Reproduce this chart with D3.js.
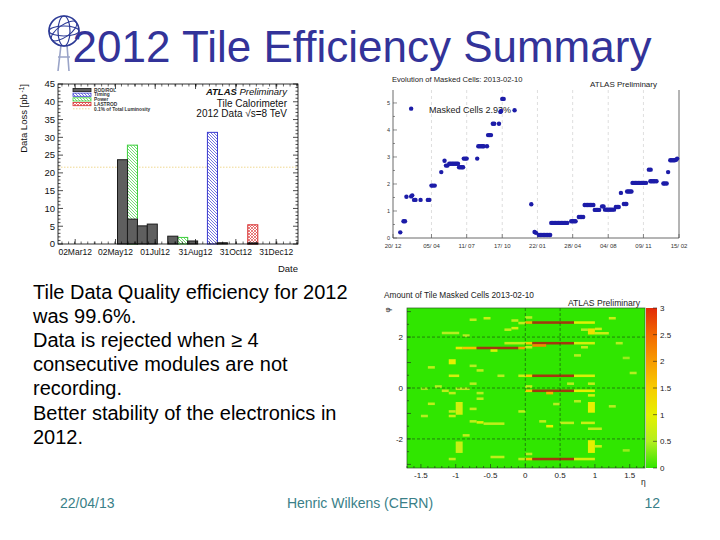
<!DOCTYPE html>
<html><head><meta charset="utf-8">
<script src="https://cdn.jsdelivr.net/npm/d3@7/dist/d3.min.js"></script>
<style>
body{margin:0;background:#fff}
svg{display:block}
text{font-family:"Liberation Sans",Arial,Helvetica,sans-serif}
</style>
</head><body>
<svg id="s" width="720" height="540"></svg>
<script>
// ---------------- DATA ----------------
// Slide text
const slideTitle = "2012 Tile Efficiency Summary";
const bodyLines = ["Tile Data Quality efficiency for 2012","was 99.6%.","Data is rejected when \u2265 4","consecutive modules are not","recording.","Better stability of the electronics in","2012."];
const footerLeft = "22/04/13", footerMid = "Henric Wilkens (CERN)", footerRight = "12";

// Chart 1: data loss per period (pb^-1)
const lossTickDates = ["2012-03-02","2012-05-02","2012-07-01","2012-08-31","2012-10-31","2012-12-31"];
const lossTickLabels = ["02Mar12","02May12","01Jul12","31Aug12","31Oct12","31Dec12"];
const lossYTicks = [0,5,10,15,20,25,30,35,40,45];
const rodBins = ["2012-05-05","2012-05-20","2012-06-04","2012-06-19","2012-07-20","2012-08-19","2012-10-03","2012-11-18"];
const rodValues = [23.7,7.0,5.1,5.6,2.2,0.85,0.35,0.3];
const timingBins = ["2012-09-18"];
const timingValues = [31.4];
const powerBins = ["2012-05-20","2012-08-04"];
const powerValues = [27.8,1.85];
const lastrodBins = ["2012-11-18"];
const lastrodValues = [5.4];
const lumiLimit = 21.6;
const lossLegend = ["ROD/ROL","Timing","Power","LASTROD","0.1% of Total Luminosity"];

// Chart 2: evolution of masked cells (%)
const maskTickDates = ["2010-12-20","2011-04-05","2011-07-11","2011-10-17","2012-01-22","2012-04-28","2012-08-04","2012-11-09","2013-02-15"];
const maskTickLabels = ["20/ 12","05/ 04","11/ 07","17/ 10","22/ 01","28/ 04","04/ 08","09/ 11","15/ 02"];
const maskYTicks = [0,1,2,3,4,5];
const maskDates = [
"2011-01-09","2011-01-18","2011-01-22","2011-01-26","2011-02-08","2011-02-08","2011-02-11","2011-02-16","2011-02-20","2011-03-06",
"2011-03-26","2011-03-30","2011-04-05","2011-04-09","2011-04-14","2011-05-02","2011-05-11","2011-05-15","2011-05-19","2011-05-24",
"2011-05-28","2011-06-01","2011-06-05","2011-06-09","2011-06-13","2011-06-17","2011-06-20","2011-06-24","2011-06-28","2011-07-01",
"2011-07-03","2011-07-07","2011-07-11","2011-08-09","2011-08-12","2011-08-16","2011-08-20","2011-08-24","2011-08-27","2011-09-05",
"2011-09-08","2011-09-12","2011-09-16","2011-09-21","2011-09-25","2011-10-08","2011-10-12","2011-10-14","2011-10-17","2011-10-21",
"2011-11-20","2012-01-05","2012-01-14","2012-01-18","2012-01-26","2012-01-30","2012-02-03","2012-02-07","2012-02-11","2012-02-15",
"2012-02-19","2012-02-23","2012-02-26","2012-02-29","2012-03-04","2012-03-08","2012-03-12","2012-03-16","2012-03-20","2012-03-24",
"2012-03-28","2012-04-01","2012-04-05","2012-04-09","2012-04-13","2012-04-24","2012-04-28","2012-05-02","2012-05-06","2012-05-15",
"2012-05-19","2012-05-23","2012-05-27","2012-05-31","2012-06-04","2012-06-08","2012-06-12","2012-06-16","2012-06-20","2012-06-24",
"2012-06-28","2012-07-02","2012-07-06","2012-07-10","2012-07-18","2012-07-22","2012-07-26","2012-07-30","2012-08-03","2012-08-07",
"2012-08-11","2012-08-15","2012-08-20","2012-08-25","2012-08-29","2012-09-02","2012-09-08","2012-09-16","2012-09-20","2012-09-23",
"2012-09-25","2012-09-29","2012-10-03","2012-10-07","2012-10-10","2012-10-14","2012-10-18","2012-10-22","2012-10-26","2012-10-30",
"2012-11-03","2012-11-07","2012-11-11","2012-11-16","2012-11-24","2012-11-29","2012-11-28","2012-12-02","2012-12-06","2012-12-10",
"2012-12-15","2013-01-03","2013-01-07","2013-01-12","2013-01-16","2013-01-22","2013-01-26","2013-01-30","2013-02-03","2013-02-07",
"2013-02-10"];
const maskValues = [
0.21,0.62,0.62,1.53,4.79,1.54,1.58,1.41,1.41,1.41,
1.41,1.41,1.94,1.94,1.94,2.44,2.86,2.68,2.68,2.75,
2.75,2.75,2.75,2.75,2.75,2.75,2.62,2.62,2.62,2.62,
2.94,2.94,2.94,2.94,3.40,3.40,3.40,3.40,3.40,3.40,
3.81,3.81,3.81,4.23,4.23,4.23,4.67,4.70,5.15,5.15,
4.73,1.25,0.22,0.19,0.11,0.11,0.11,0.11,0.11,0.11,
0.11,0.11,0.11,0.56,0.56,0.56,0.56,0.56,0.56,0.56,
0.56,0.56,0.56,0.56,0.56,0.62,0.62,0.62,0.62,0.78,
0.78,0.78,0.78,1.22,1.22,1.22,1.22,1.22,1.22,1.22,
1.04,1.04,1.04,1.04,1.17,1.17,1.05,1.05,1.05,1.05,
1.05,1.05,1.05,1.15,1.15,1.15,1.67,1.26,1.26,1.26,
1.72,1.72,1.72,1.72,2.04,2.04,2.04,2.04,2.04,2.04,
2.04,2.04,2.04,2.04,2.53,2.53,2.10,2.10,2.10,2.10,
2.10,2.02,2.02,2.02,2.44,2.88,2.88,2.88,2.88,2.90,
2.94];

// Chart 3: masked cells map [eta0, eta1, phiLow, phiHigh, value]
const etaTicks = [-1.5,-1,-0.5,0,0.5,1,1.5];
const phiTicks = [-2,0,2];
const zTicks = [0,0.5,1,1.5,2,2.5,3];
const cells = [
[-0.8,-0.7,2.63,2.73,0.6],[-0.6,-0.5,2.69,2.79,0.7],[-0.2,-0.1,2.6,2.7,0.6],[-0.1,0,2.5,2.6,0.6],
[-0.3,-0.2,2.24,2.34,0.6],[-0.2,-0.1,2.3,2.4,0.8],[-1.2,-0.95,2.11,2.21,0.5],[-0.9,-0.8,2.01,2.11,0.5],
[-0.3,0,1.71,1.81,0.6],[-1.0,-0.9,1.52,1.62,1.1],[-0.9,-0.7,1.52,1.62,1.6],[-0.7,-0.1,1.52,1.62,3.5],
[-0.1,0,1.52,1.62,2.0],[-0.5,-0.4,1.42,1.52,0.9],[-1.1,-1.0,0.93,1.13,1.0],[-0.8,-0.7,0.82,0.92,0.5],
[-1.4,-1.3,0.76,0.86,0.6],[-0.7,-0.6,0.64,0.74,0.6],[-1.1,-0.95,0.43,0.53,0.8],[-0.4,-0.3,0.43,0.53,0.5],
[-0.1,0,0.43,0.53,0.7],[-0.8,-0.7,0.12,0.22,0.5],[-1.3,-1.2,0.01,0.11,0.5],[-1.5,-1.4,-0.08,0.02,0.4],
[-1.0,-0.8,-0.08,0.02,0.5],[-1.2,-1.1,-0.16,-0.06,0.6],[-1.1,-1.0,-0.25,-0.15,0.6],[-0.7,-0.6,-0.25,-0.15,0.5],
[-0.7,-0.6,-0.47,-0.37,0.6],[-1.4,-1.3,-0.67,-0.57,0.6],[-1.0,-0.9,-1.05,-0.55,0.8],[-0.8,-0.7,-0.87,-0.77,0.6],
[-1.1,-1.0,-0.97,-0.87,0.6],[-1.1,-1.0,-1.15,-1.05,0.7],[-1.5,-1.4,-1.15,-1.05,0.5],[-0.1,0,-0.97,-0.87,0.6],
[-0.8,-0.7,-1.36,-1.26,0.6],[-0.7,-0.6,-1.4,-1.3,0.9],[-0.6,-0.3,-1.45,-1.35,0.6],[-0.9,-0.8,-1.91,-1.81,0.6],
[-1.0,-0.9,-2.55,-2.1,0.7],[-0.5,-0.3,-2.76,-2.66,0.6],[-1.1,-1.0,-2.84,-2.74,0.6],[-0.1,0,-2.84,-2.74,0.6],
[0,0.1,2.52,2.62,1.8],[0.1,0.7,2.52,2.62,3.5],[0.7,1.0,2.52,2.62,0.9],[0,0.1,2.72,2.82,0.5],
[1.2,1.3,2.69,2.79,0.7],[0.9,1.0,2.1,2.34,1.2],[1.0,1.1,2.27,2.37,0.7],[1.0,1.2,2.1,2.2,0.7],
[0.8,0.9,2.24,2.34,0.5],[0,0.1,1.71,1.81,1.5],[0.1,0.7,1.71,1.81,3.5],[0.7,1.0,1.71,1.81,0.8],
[0.1,0.3,1.62,1.72,2.2],[0,0.1,1.55,1.65,0.6],[1.3,1.4,1.71,1.81,0.5],[0.8,0.9,1.55,1.65,0.6],
[0.7,0.8,1.23,1.33,0.5],[1.4,1.5,1.13,1.23,0.4],[1.5,1.6,0.54,0.64,0.5],[0,0.1,0.43,0.53,1.5],
[0.1,0.7,0.43,0.53,3.5],[0.7,1.0,0.43,0.53,0.85],[0.6,0.7,0.12,0.22,0.5],[0.9,1.0,0.12,0.22,0.6],
[0,0.1,0.01,0.11,0.6],[0,0.1,-0.16,-0.06,1.5],[0.1,0.7,-0.16,-0.06,3.5],[0.7,1.0,-0.16,-0.06,1.0],
[0.3,0.4,-0.25,-0.15,1.8],[0.9,1.0,-0.34,-0.24,0.8],[0.7,0.8,-0.57,-0.47,0.5],[0.4,0.5,-0.68,-0.58,0.5],
[0.9,1.0,-0.97,-0.55,1.0],[1.2,1.3,-0.77,-0.67,0.5],[0.2,0.3,-1.36,-1.26,0.6],[0.5,0.7,-1.42,-1.32,0.6],
[0.8,1.0,-1.42,-1.32,0.7],[0.3,0.4,-1.55,-1.45,1.0],[0.9,1.1,-1.65,-1.55,0.6],[0.9,1.0,-2.55,-2.05,1.0],
[1.0,1.1,-2.34,-2.24,0.7],[1.4,1.5,-2.5,-2.4,0.4],[0,0.1,-2.64,-2.54,0.5],[0,0.1,-2.84,-2.74,1.5],
[0.1,0.7,-2.84,-2.74,3.5],[0.7,1.0,-2.84,-2.74,0.8]
];

// ---------------- DRAWING ----------------
const parse = d3.timeParse("%Y-%m-%d");
const svg = d3.select("#s");
const FONT = '"Liberation Sans",Arial,sans-serif';
const defs = svg.append("defs");

function hatch(id, color, cross){
  const p = defs.append("pattern").attr("id",id).attr("patternUnits","userSpaceOnUse")
    .attr("width",3).attr("height",3);
  p.append("rect").attr("width",3).attr("height",3).attr("fill","#fff");
  p.append("path").attr("d","M-1,-1L4,4M-1,2L1,4M2,-1L4,1").attr("stroke",color).attr("stroke-width",0.7);
  if(cross) p.append("path").attr("d","M-1,4L4,-1M-1,1L1,-1M2,4L4,2").attr("stroke",color).attr("stroke-width",0.7);
}
hatch("hBlue","#3a3ad0",false);
hatch("hGreen","#3ccf3c",false);
hatch("hRed","#e04848",true);

// ---- slide title + logo
const logo = svg.append("g").attr("transform","translate(64,31)");
logo.append("path").attr("d","M-3,14 L-6,40 M3,14 L5,40 M-6,26 L6,26").attr("stroke","#9aa4c8").attr("stroke-width",1.6).attr("fill","none");
logo.append("circle").attr("r",15).attr("fill","none").attr("stroke","#2c3a96").attr("stroke-width",1.6);
logo.append("ellipse").attr("rx",6).attr("ry",15).attr("fill","none").attr("stroke","#2c3a96").attr("stroke-width",1.2);
logo.append("ellipse").attr("rx",15).attr("ry",5).attr("fill","none").attr("stroke","#2c3a96").attr("stroke-width",1.2);
logo.append("ellipse").attr("rx",15).attr("ry",6).attr("transform","rotate(-35)").attr("fill","none").attr("stroke","#2c3a96").attr("stroke-width",1);

svg.append("text").attr("x",362).attr("y",62).attr("text-anchor","middle")
  .attr("font-size",44).attr("fill","#333399").text(slideTitle);

// ---- body text
svg.append("g").selectAll("text").data(bodyLines).join("text")
  .attr("x",33).attr("y",(d,i)=>299+i*24.1).attr("font-size",20).attr("fill","#000").text(d=>d);

// ---- footer
const footCol = "#3a7f88";
svg.append("text").attr("x",60).attr("y",508).attr("font-size",14).attr("fill",footCol).text(footerLeft);
svg.append("text").attr("x",360).attr("y",508).attr("text-anchor","middle").attr("font-size",14).attr("fill",footCol).text(footerMid);
svg.append("text").attr("x",660).attr("y",508).attr("text-anchor","end").attr("font-size",14).attr("fill",footCol).text(footerRight);

// ================= Chart 1 =================
{
  const L=58,R=298,T=84,B=244;
  const g = svg.append("g");
  const x = d3.scaleTime().domain([parse("2012-02-05"),parse("2013-02-02")]).range([L,R]);
  const y = d3.scaleLinear().domain([0,45]).range([B,T]);
  const binMs = 15.2*864e5;
  const bw = d => x(new Date(parse(d).getTime()+binMs)) - x(parse(d));

  // lumi line
  g.append("line").attr("x1",L).attr("x2",R).attr("y1",y(lumiLimit)).attr("y2",y(lumiLimit))
    .attr("stroke","#f0d890").attr("stroke-width",1).attr("stroke-dasharray","1.5,1.5");

  function bars(bins, vals, fill, stroke){
    g.append("g").selectAll("rect").data(bins).join("rect")
      .attr("x",d=>x(parse(d))).attr("width",d=>bw(d))
      .attr("y",(d,i)=>y(vals[i])).attr("height",(d,i)=>B-y(vals[i]))
      .attr("fill",fill).attr("stroke",stroke).attr("stroke-width",1);
  }
  bars(powerBins,powerValues,"url(#hGreen)","#3ccf3c");
  bars(timingBins,timingValues,"url(#hBlue)","#3a3ad0");
  bars(lastrodBins,lastrodValues,"url(#hRed)","#d83030");
  bars(rodBins,rodValues,"#5f5f5f","#1a1a1a");

  // frame
  g.append("rect").attr("x",L).attr("y",T).attr("width",R-L).attr("height",B-T)
    .attr("fill","none").attr("stroke","#000").attr("stroke-width",0.8);
  // y ticks
  const yMinor = d3.range(0,45.01,1);
  g.append("g").selectAll("path").data(yMinor).join("path")
    .attr("d",d=>{const l=(d%5===0)?5:2.5; return `M${L},${y(d)}h${l}M${R},${y(d)}h${-l}`;})
    .attr("stroke","#000").attr("stroke-width",0.7);
  g.append("g").selectAll("text").data(lossYTicks).join("text")
    .attr("x",L-3).attr("y",d=>y(d)+3.3).attr("text-anchor","end").attr("font-size",9.5).attr("fill","#111").text(d=>d);
  // x ticks
  const xMinor = d3.timeDay.every(10).range(parse("2012-02-06"),parse("2013-02-02"));
  g.append("g").selectAll("path").data(xMinor).join("path")
    .attr("d",d=>`M${x(d)},${B}v-2.5M${x(d)},${T}v2.5`).attr("stroke","#000").attr("stroke-width",0.6);
  g.append("g").selectAll("path").data(lossTickDates).join("path")
    .attr("d",d=>`M${x(parse(d))},${B}v-5M${x(parse(d))},${T}v5`).attr("stroke","#000").attr("stroke-width",0.7);
  g.append("g").selectAll("text").data(lossTickDates).join("text")
    .attr("x",d=>x(parse(d))).attr("y",B+11).attr("text-anchor","middle").attr("font-size",8.5).attr("fill","#111")
    .text((d,i)=>lossTickLabels[i]);
  g.append("text").attr("x",R).attr("y",272).attr("text-anchor","end").attr("font-size",9.5).attr("fill","#111").text("Date");
  const yl = g.append("text").attr("transform",`translate(27,${T}) rotate(-90)`).attr("text-anchor","end")
    .attr("font-size",9.5).attr("fill","#111");
  yl.append("tspan").text("Data Loss [pb");
  yl.append("tspan").attr("font-size",6.5).attr("dy",-3).text(" -1");
  yl.append("tspan").attr("dy",3).text("]");

  // legend
  const lg = g.append("g");
  const ly = [90,94.7,99.4,104.1,108.8];
  const sw = [["#5f5f5f","#1a1a1a"],["url(#hBlue)","#3a3ad0"],["url(#hGreen)","#3ccf3c"],["url(#hRed)","#d83030"]];
  lossLegend.forEach((t,i)=>{
    if(i<4) lg.append("rect").attr("x",73).attr("y",ly[i]-1.6).attr("width",18).attr("height",3.2)
      .attr("fill",sw[i][0]).attr("stroke",sw[i][1]).attr("stroke-width",0.8);
    else lg.append("line").attr("x1",73).attr("x2",91).attr("y1",ly[i]).attr("y2",ly[i])
      .attr("stroke","#f0d890").attr("stroke-width",1).attr("stroke-dasharray","1.5,1.5");
    lg.append("text").attr("x",94).attr("y",ly[i]+1.7).attr("font-size",4.8).attr("font-weight","bold").attr("fill","#333").text(t);
  });
  const at = g.append("text").attr("x",287).attr("y",95).attr("text-anchor","end").attr("font-size",9.5).attr("fill","#111");
  at.append("tspan").attr("font-weight","bold").attr("font-style","italic").text("ATLAS ");
  at.append("tspan").attr("font-style","italic").text("Preliminary");
  g.append("text").attr("x",287).attr("y",106.5).attr("text-anchor","end").attr("font-size",10).attr("fill","#111").text("Tile Calorimeter");
  g.append("text").attr("x",287).attr("y",117).attr("text-anchor","end").attr("font-size",10).attr("fill","#111").text("2012 Data  \u221As=8 TeV");
}

// ================= Chart 2 =================
{
  const L=393,R=679,T=90,B=238;
  const g = svg.append("g");
  const x = d3.scaleTime().domain([parse("2010-12-20"),parse("2013-02-15")]).range([L,R]);
  const y = d3.scaleLinear().domain([0,5.48]).range([B,T]);
  g.append("text").attr("x",392).attr("y",81.5).attr("font-size",7.6).attr("fill","#222").text("Evolution of Masked Cells:  2013-02-10");
  g.append("text").attr("x",590).attr("y",86.5).attr("font-size",8).attr("fill","#222").text("ATLAS Preliminary");
  // grid
  g.append("g").selectAll("line").data(maskTickDates.slice(1,-1)).join("line")
    .attr("x1",d=>x(parse(d))).attr("x2",d=>x(parse(d))).attr("y1",T).attr("y2",B)
    .attr("stroke","#c8c8c8").attr("stroke-width",0.6).attr("stroke-dasharray","3,3");
  // axes
  g.append("path").attr("d",`M${L},${T}V${B}H${R}V${T}`).attr("fill","none").attr("stroke","#444").attr("stroke-width",0.8);
  g.append("g").selectAll("path").data(d3.range(0,5.01,0.5)).join("path")
    .attr("d",d=>`M${L},${y(d)}h${d%1===0?4:2}`).attr("stroke","#444").attr("stroke-width",0.6);
  g.append("g").selectAll("path").data(maskTickDates).join("path")
    .attr("d",d=>`M${x(parse(d))},${B}v-4`).attr("stroke","#444").attr("stroke-width",0.6);
  g.append("g").selectAll("text").data(maskYTicks).join("text")
    .attr("x",L-3).attr("y",d=>y(d)+2).attr("text-anchor","end").attr("font-size",5.5).attr("fill","#333").text(d=>d);
  g.append("g").selectAll("text").data(maskTickDates).join("text")
    .attr("x",d=>x(parse(d))).attr("y",B+10).attr("text-anchor","middle").attr("font-size",6).attr("fill","#333")
    .text((d,i)=>maskTickLabels[i]);
  g.append("text").attr("x",429).attr("y",113).attr("font-size",9).attr("fill","#222").text("Masked Cells 2.93%");
  // points
  g.append("g").selectAll("circle").data(maskDates).join("circle")
    .attr("cx",d=>x(parse(d))).attr("cy",(d,i)=>y(maskValues[i])).attr("r",2.2)
    .attr("fill","#1c1ca8");
}

// ================= Chart 3 =================
{
  const L=407,R=645,T=308,B=468;
  const g = svg.append("g");
  const x = d3.scaleLinear().domain([-1.7,1.72]).range([L,R]);
  const y = d3.scaleLinear().domain([-Math.PI,Math.PI]).range([B,T]);
  const col = d3.scaleLinear().domain([0,0.5,1,1.5,2,2.5,3,3.5])
    .range(["#30e600","#b4ee20","#e6f000","#f7cc00","#f79c00","#f26800","#e22a08","#a3380e"]).clamp(true);
  g.append("text").attr("x",384).attr("y",298).attr("font-size",8.3).attr("fill","#222").text("Amount of Tile Masked Cells 2013-02-10");
  g.append("text").attr("x",568).attr("y",306).attr("font-size",8.6).attr("fill","#222").text("ATLAS Preliminary");
  g.append("rect").attr("x",L).attr("y",T).attr("width",R-L).attr("height",B-T).attr("fill",col(0));
  g.append("g").selectAll("rect").data(cells).join("rect")
    .attr("x",d=>x(d[0])).attr("width",d=>x(d[1])-x(d[0]))
    .attr("y",d=>y(d[3])).attr("height",d=>y(d[2])-y(d[3]))
    .attr("fill",d=>col(d[4]));
  // dashed grid
  g.append("g").selectAll("line").data([0,0.5]).join("line")
    .attr("x1",d=>x(d)).attr("x2",d=>x(d)).attr("y1",T).attr("y2",B)
    .attr("stroke","#1a5a10").attr("stroke-width",0.7).attr("stroke-dasharray","3,2");
  g.append("g").selectAll("line").data(phiTicks).join("line")
    .attr("x1",L).attr("x2",R).attr("y1",d=>y(d)).attr("y2",d=>y(d))
    .attr("stroke","#1a5a10").attr("stroke-width",0.7).attr("stroke-dasharray","3,2");
  g.append("rect").attr("x",L).attr("y",T).attr("width",R-L).attr("height",B-T)
    .attr("fill","none").attr("stroke","#2a5a20").attr("stroke-width",0.7);
  // ticks
  g.append("g").selectAll("path").data(d3.range(-1.7,1.71,0.1)).join("path")
    .attr("d",d=>`M${x(d)},${B}v${Math.abs(d*2-Math.round(d*2))<0.01?-4:-2}`).attr("stroke","#222").attr("stroke-width",0.6);
  g.append("g").selectAll("path").data(d3.range(-3,3.01,0.5)).join("path")
    .attr("d",d=>`M${L},${y(d)}h${d%1===0?4:2}`).attr("stroke","#222").attr("stroke-width",0.6);
  g.append("g").selectAll("text").data(etaTicks).join("text")
    .attr("x",d=>x(d)).attr("y",B+10).attr("text-anchor","middle").attr("font-size",8).attr("fill","#222").text(d=>d);
  g.append("g").selectAll("text").data(phiTicks).join("text")
    .attr("x",L-4).attr("y",d=>y(d)+3).attr("text-anchor","end").attr("font-size",8).attr("fill","#222").text(d=>d);
  g.append("text").attr("x",641).attr("y",485).attr("font-size",8.5).attr("fill","#222").text("\u03b7");
  g.append("text").attr("transform","translate(390,310) rotate(-90)").attr("text-anchor","middle").attr("font-size",8).attr("fill","#222").text("\u03c6");
  // colorbar
  const cb = {x:646,w:11};
  const cy = d3.scaleLinear().domain([0,3]).range([B,T]);
  const grad = defs.append("linearGradient").attr("id","cbg").attr("x1",0).attr("x2",0).attr("y1",1).attr("y2",0);
  d3.range(0,3.01,0.25).forEach(v=>grad.append("stop").attr("offset",v/3).attr("stop-color",col(v)));
  g.append("rect").attr("x",cb.x).attr("y",T).attr("width",cb.w).attr("height",B-T).attr("fill","url(#cbg)");
  g.append("g").selectAll("path").data(zTicks).join("path")
    .attr("d",d=>`M${cb.x+cb.w},${cy(d)}h-4`).attr("stroke","#222").attr("stroke-width",0.6);
  g.append("g").selectAll("text").data(zTicks).join("text")
    .attr("x",660).attr("y",d=>cy(d)+3).attr("font-size",8).attr("fill","#222").text(d=>d);
}
</script>
</body></html>
